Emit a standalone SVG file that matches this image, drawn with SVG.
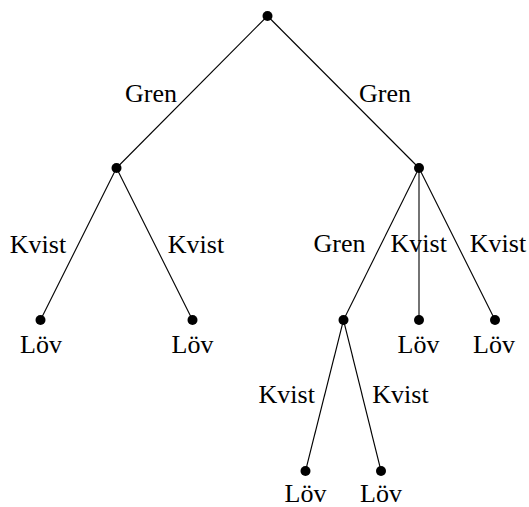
<svg xmlns="http://www.w3.org/2000/svg" width="529" height="507" viewBox="0 0 529 507">
<defs>
<style>
.e{stroke:#000;stroke-width:1.1;fill:none}
.n{fill:#000}
</style>
</defs>
<rect width="529" height="507" fill="#fff"/>
<g id="connectors">
<line class="e" x1="267.5" y1="16" x2="116.5" y2="168"/>
<line class="e" x1="267.5" y1="16" x2="419" y2="168"/>
<line class="e" x1="116.5" y1="168" x2="40.5" y2="320"/>
<line class="e" x1="116.5" y1="168" x2="192.5" y2="320"/>
<line class="e" x1="419" y1="168" x2="343.5" y2="320"/>
<line class="e" x1="419" y1="168" x2="419" y2="320"/>
<line class="e" x1="419" y1="168" x2="495" y2="320"/>
<line class="e" x1="343.5" y1="320" x2="305.5" y2="471"/>
<line class="e" x1="343.5" y1="320" x2="381" y2="471"/>
</g>
<g id="edge-labels" text-anchor="middle">
<text x="151" y="102" style="font-family:'Liberation Serif',serif;font-size:26px">Gren</text>
<text x="385" y="102" style="font-family:'Liberation Serif',serif;font-size:26px">Gren</text>
<text x="38" y="253" style="font-family:'Liberation Serif',serif;font-size:26px">Kvist</text>
<text x="196" y="253" style="font-family:'Liberation Serif',serif;font-size:26px">Kvist</text>
<text x="339.5" y="252" style="font-family:'Liberation Serif',serif;font-size:26px">Gren</text>
<text x="418.7" y="252" style="font-family:'Liberation Serif',serif;font-size:26px">Kvist</text>
<text x="498" y="252" style="font-family:'Liberation Serif',serif;font-size:26px">Kvist</text>
<text x="286.7" y="403" style="font-family:'Liberation Serif',serif;font-size:26px">Kvist</text>
<text x="400.5" y="403" style="font-family:'Liberation Serif',serif;font-size:26px">Kvist</text>
</g>
<g id="root"><circle class="n" cx="267.5" cy="16" r="5"/></g>
<g id="n1"><circle class="n" cx="116.5" cy="168" r="5"/></g>
<g id="n2"><circle class="n" cx="419" cy="168" r="5"/></g>
<g id="leaf1" text-anchor="middle"><circle class="n" cx="40.5" cy="320" r="5"/><text x="41" y="353" style="font-family:'Liberation Serif',serif;font-size:26px">Löv</text></g>
<g id="leaf2" text-anchor="middle"><circle class="n" cx="192.5" cy="320" r="5"/><text x="192.5" y="353" style="font-family:'Liberation Serif',serif;font-size:26px">Löv</text></g>
<g id="n3"><circle class="n" cx="343.5" cy="320" r="5"/></g>
<g id="leaf3" text-anchor="middle"><circle class="n" cx="419" cy="320" r="5"/><text x="418.5" y="353" style="font-family:'Liberation Serif',serif;font-size:26px">Löv</text></g>
<g id="leaf4" text-anchor="middle"><circle class="n" cx="495" cy="320" r="5"/><text x="494" y="353" style="font-family:'Liberation Serif',serif;font-size:26px">Löv</text></g>
<g id="leaf5" text-anchor="middle"><circle class="n" cx="305.5" cy="471" r="5"/><text x="305.5" y="502" style="font-family:'Liberation Serif',serif;font-size:26px">Löv</text></g>
<g id="leaf6" text-anchor="middle"><circle class="n" cx="381" cy="471" r="5"/><text x="381" y="502" style="font-family:'Liberation Serif',serif;font-size:26px">Löv</text></g>
</svg>
